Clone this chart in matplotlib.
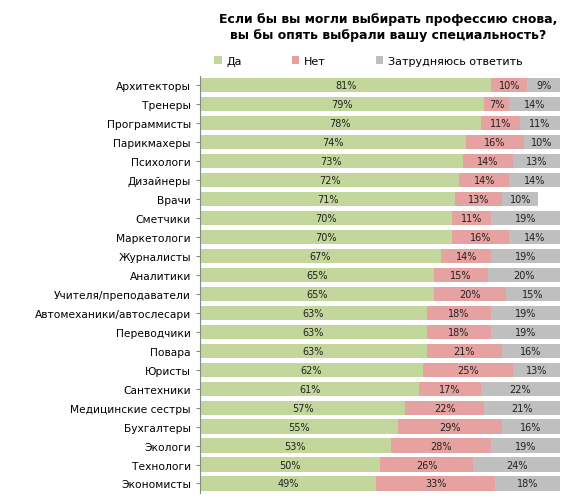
import matplotlib
matplotlib.use("Agg")
import matplotlib.pyplot as plt

categories = ["Архитекторы","Тренеры","Программисты","Парикмахеры","Психологи","Дизайнеры","Врачи",
 "Сметчики","Маркетологи","Журналисты","Аналитики","Учителя/преподаватели","Автомеханики/автослесари",
 "Переводчики","Повара","Юристы","Сантехники","Медицинские сестры","Бухгалтеры","Экологи","Технологи","Экономисты"]
yes = [81,79,78,74,73,72,71,70,70,67,65,65,63,63,63,62,61,57,55,53,50,49]
no = [10,7,11,16,14,14,13,11,16,14,15,20,18,18,21,25,17,22,29,28,26,33]
hard = [9,14,11,10,13,14,10,19,14,19,20,15,19,19,16,13,22,21,16,19,24,18]
series_names = ["Да","Нет","Затрудняюсь ответить"]
colors = ["#c3d69b","#e6a1a1","#bfbfbf"]

fig = plt.figure(figsize=(5.62,5.02), dpi=100)
ax = fig.add_axes([0.356,0.016,0.64,0.831])
y = list(range(len(categories)))
left = [0]*len(categories)
for vals, name, c in zip([yes,no,hard], series_names, colors):
    ax.barh(y, vals, left=left, height=0.75, color=c, label=name)
    for yi, l, v in zip(y, left, vals):
        ax.text(l+v/2, yi, f"{v}%", ha="center", va="center", fontsize=7, color="#222222")
    left = [a+b for a,b in zip(left, vals)]
ax.set_yticks(y)
ax.set_yticklabels(categories, fontsize=7.7)
ax.set_ylim(len(categories)-0.5, -0.5)
ax.set_xlim(0,100)
ax.set_xticks([])
for s in ["top","right","bottom"]:
    ax.spines[s].set_visible(False)
ax.spines["left"].set_color("#888888")
ax.tick_params(axis="y", length=3, color="#888888")
fig.text(0.69, 0.975, "Если бы вы могли выбирать профессию снова,\nвы бы опять выбрали вашу специальность?",
         ha="center", va="top", fontsize=9, fontweight="bold", linespacing=1.3)
fig.legend(*ax.get_legend_handles_labels(), loc="center", bbox_to_anchor=(0.655,0.877), ncol=3,
           frameon=False, fontsize=8, handlelength=0.7, handleheight=0.7, columnspacing=4.5, handletextpad=0.4)
fig.savefig("out.png", dpi=100)
